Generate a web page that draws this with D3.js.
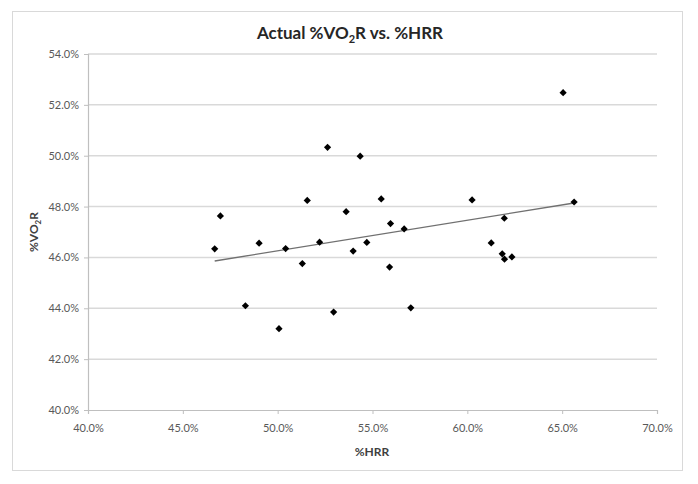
<!DOCTYPE html>
<html>
<head>
<meta charset="utf-8">
<script src="https://cdn.jsdelivr.net/npm/d3@7"></script>
<style>
  html, body { margin: 0; padding: 0; background: #ffffff; }
  svg { display: block; }
  text { font-family: Lato, "Liberation Sans", sans-serif; }
</style>
</head>
<body>
<svg id="chart" width="698" height="484"></svg>
<script>
// ---- Data (percent values) ----
const hrr = [46.68, 46.98, 48.3, 49.02, 50.07, 50.42, 51.3, 51.56, 52.21, 52.63,
             52.95, 53.61, 53.98, 54.35, 54.7, 55.46, 55.9, 55.95, 56.67, 57.02,
             60.25, 61.26, 61.84, 61.95, 61.96, 62.35, 65.05, 65.63];
const vo2r = [46.34, 47.63, 44.1, 46.56, 43.2, 46.35, 45.76, 48.24, 46.6, 50.33,
              43.85, 47.8, 46.25, 49.98, 46.59, 48.3, 45.62, 47.33, 47.12, 44.02,
              48.26, 46.57, 46.14, 47.54, 45.93, 46.02, 52.48, 48.18];
const trendX = [46.68, 65.63];
const trendY = [45.86, 48.14];
const xTicks = [40, 45, 50, 55, 60, 65, 70];
const yTicks = [40, 42, 44, 46, 48, 50, 52, 54];

const svg = d3.select("#chart");
const plot = { left: 88, right: 657, top: 54, bottom: 410 };

// Chart border
svg.append("rect")
  .attr("x", 12.5).attr("y", 11.5).attr("width", 670).attr("height", 459)
  .attr("fill", "#ffffff").attr("stroke", "#d9d9d9").attr("stroke-width", 1);

const x = d3.scaleLinear().domain([40, 70]).range([plot.left, plot.right]);
const y = d3.scaleLinear().domain([40, 54]).range([plot.bottom, plot.top]);

// Gridlines
svg.append("g").selectAll("line").data(yTicks.filter(t => t > 40)).join("line")
  .attr("x1", plot.left).attr("x2", plot.right)
  .attr("y1", d => y(d)).attr("y2", d => y(d))
  .attr("stroke", "#d9d9d9").attr("stroke-width", 1.5);

const fmt = d => d.toFixed(1) + "%";

// Y axis
const yAxis = svg.append("g").attr("transform", `translate(${plot.left},0)`)
  .call(d3.axisLeft(y).tickValues(yTicks).tickFormat(fmt).tickSize(4).tickPadding(5));
yAxis.select(".domain").attr("stroke", "#bfbfbf").attr("stroke-width", 1.2);
yAxis.selectAll(".tick line").attr("stroke", "#bfbfbf");
yAxis.selectAll(".tick text").attr("fill", "#595959").style("font-size", "11px")
  .style("font-family", "Lato, 'Liberation Sans', sans-serif");

// X axis
const xAxis = svg.append("g").attr("transform", `translate(0,${plot.bottom})`)
  .call(d3.axisBottom(x).tickValues(xTicks).tickFormat(fmt).tickSize(4).tickPadding(10));
xAxis.select(".domain").attr("stroke", "#bfbfbf").attr("stroke-width", 1.2);
xAxis.selectAll(".tick line").attr("stroke", "#bfbfbf");
xAxis.selectAll(".tick text").attr("fill", "#595959").style("font-size", "11px")
  .style("font-family", "Lato, 'Liberation Sans', sans-serif");

// Trend line
const trend = trendX.map((v, i) => [v, trendY[i]]);
svg.append("path")
  .attr("d", d3.line().x(d => x(d[0])).y(d => y(d[1]))(trend))
  .attr("fill", "none").attr("stroke", "#707070").attr("stroke-width", 1.3);

// Points (diamonds)
const pts = hrr.map((v, i) => [v, vo2r[i]]);
svg.append("g").selectAll("path").data(pts).join("path")
  .attr("d", d3.symbol(d3.symbolSquare, 26))
  .attr("transform", d => `translate(${x(d[0])},${y(d[1])}) rotate(45)`)
  .attr("fill", "#000000");

// Title
const title = svg.append("text").attr("x", 350).attr("y", 39)
  .attr("text-anchor", "middle").attr("font-weight", "bold")
  .style("font-size", "17px").attr("fill", "#262626");
title.append("tspan").text("Actual %VO");
title.append("tspan").text("2").style("font-size", "11px").attr("dy", 4);
title.append("tspan").text("R vs. %HRR").attr("dy", -4);

// X axis title
svg.append("text").attr("x", 372).attr("y", 456)
  .attr("text-anchor", "middle").attr("font-weight", "bold")
  .style("font-size", "12px").attr("fill", "#404040").text("%HRR");

// Y axis title
const yt = svg.append("text")
  .attr("transform", "translate(38,232) rotate(-90)")
  .attr("text-anchor", "middle").attr("font-weight", "bold")
  .style("font-size", "12px").attr("fill", "#404040");
yt.append("tspan").text("%VO");
yt.append("tspan").text("2").style("font-size", "8px").attr("dy", 3);
yt.append("tspan").text("R").attr("dy", -3);
</script>
</body>
</html>
